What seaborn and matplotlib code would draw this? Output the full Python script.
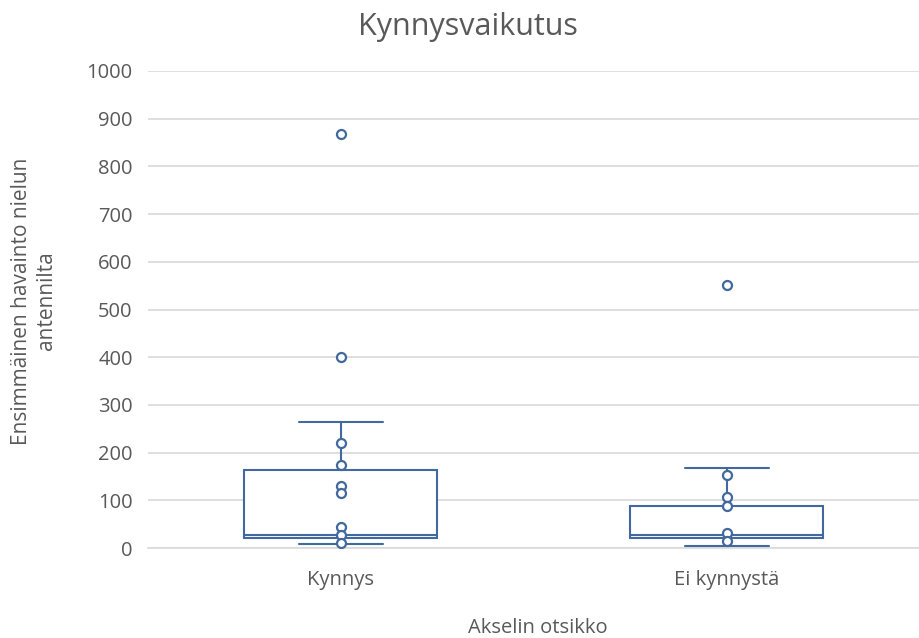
import matplotlib
matplotlib.use("Agg")
import matplotlib.pyplot as plt
import seaborn as sns
import pandas as pd

categories = ["Kynnys", "Ei kynnystä"]
kynnys_points = [868, 400, 220, 175, 130, 115, 45, 27, 10]
ei_points = [552, 153, 107, 88, 31, 14]

# box statistics
whisker_low = [8, 4]
q1 = [20, 21]
median = [27, 27]
q3 = [163, 88]
whisker_high = [264, 168]

yticks = list(range(0, 1001, 100))

sns.set_theme(style="white")
plt.rcParams['font.family'] = ['Open Sans', 'DejaVu Sans']

blue = "#41699E"
grey_text = "#595959"

fig = plt.figure(figsize=(9.2, 6.38), dpi=100)
ax = fig.add_axes([148/920, 1 - 548/638, (920 - 148)/920, (548 - 71)/638])

df = pd.DataFrame({
    "cat": [categories[0]] * len(kynnys_points) + [categories[1]] * len(ei_points),
    "val": kynnys_points + ei_points,
})

stats = []
for i, c in enumerate(categories):
    stats.append(dict(label=c, whislo=whisker_low[i], q1=q1[i], med=median[i],
                      q3=q3[i], whishi=whisker_high[i], fliers=[]))

ax.bxp(stats, positions=[0, 1], widths=0.5, showfliers=False, patch_artist=True,
       boxprops=dict(facecolor="white", edgecolor=blue, linewidth=1.5),
       medianprops=dict(color=blue, linewidth=1.5),
       whiskerprops=dict(color=blue, linewidth=1.5),
       capprops=dict(color=blue, linewidth=1.5),
       capwidths=0.22, zorder=2)

sns.stripplot(data=df, x="cat", y="val", order=categories, jitter=False, ax=ax,
              marker="o", size=6.5, color="white", edgecolor=blue, linewidth=1.6,
              zorder=3)

ax.set_xlim(-0.5, 1.5)
ax.set_ylim(0, 1000)
ax.set_yticks(yticks)
ax.set_yticklabels([str(t) for t in yticks], fontsize=14.5, color=grey_text)
ax.set_xticks([0, 1])
ax.set_xticklabels(categories, fontsize=14.5, color=grey_text)
ax.tick_params(axis="y", length=0, pad=11)
ax.tick_params(axis="x", length=0, pad=16)
ax.grid(axis="y", color="#D9D9D9", linewidth=1.2)
ax.set_axisbelow(True)
for s in ["top", "right", "left"]:
    ax.spines[s].set_visible(False)
ax.spines["bottom"].set_color("#D9D9D9")
ax.spines["bottom"].set_linewidth(1.2)

ax.set_xlabel("")
ax.set_ylabel("")
fig.text(538/920, 1 - 628/638, "Akselin otsikko", ha="center", va="center",
         fontsize=14.5, color=grey_text)
fig.text(34/920, 1 - 301/638, "Ensimmäinen havainto nielun\nantennilta", ha="center",
         va="center", rotation=90, fontsize=15, color=grey_text, linespacing=1.25,
         multialignment="center")
fig.text(468/920, 1 - 27/638, "Kynnysvaikutus", ha="center", va="center",
         fontsize=22, color=grey_text)

fig.savefig("out.png", dpi=100)
